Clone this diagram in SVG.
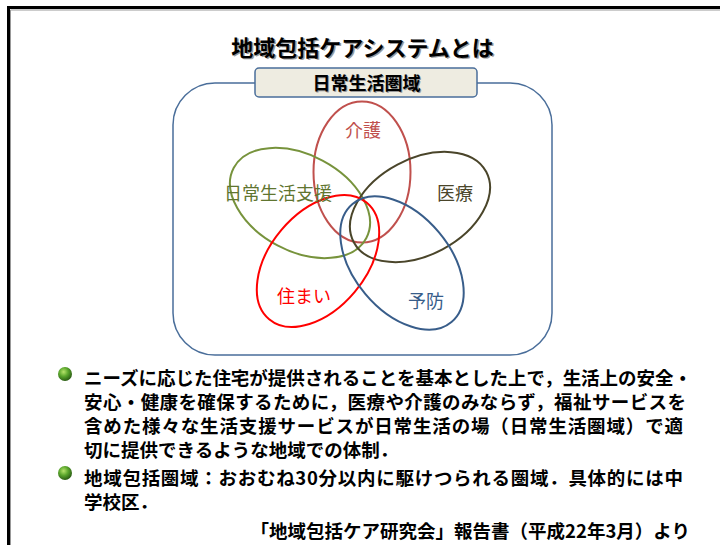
<svg xmlns="http://www.w3.org/2000/svg" width="720" height="545" viewBox="0 0 720 545">
<defs>
<radialGradient id="ball" cx="0.4" cy="0.35" r="0.65">
<stop offset="0" stop-color="#b6e36a"/>
<stop offset="0.5" stop-color="#5aa62c"/>
<stop offset="1" stop-color="#2b5e14"/>
</radialGradient>
<style>
.jp{font-family:"Noto Sans CJK JP","Liberation Sans",sans-serif;}
.b{font-weight:bold;}
.petal{fill:none;stroke-width:2;}
.lbl{font-size:18px;text-anchor:middle;}
.body{font-size:18.5px;font-weight:bold;fill:#000;}
</style>
</defs>
<rect width="720" height="545" fill="#fff"/>
<!-- frame -->
<path d="M10.5,545 V10 H720" fill="none" stroke="#999" stroke-width="1"/>
<path d="M8.5,545 V7.5 H720" fill="none" stroke="#000" stroke-width="3"/>

<!-- title -->
<g id="title" class="jp b" font-size="22" text-anchor="middle">
<text x="364" y="57" fill="#999">地域包括ケアシステムとは</text>
<text x="362.5" y="55.5" fill="#000">地域包括ケアシステムとは</text>
</g>

<!-- outer area -->
<g id="area">
<rect x="173" y="83" width="379" height="272" rx="42" ry="42" fill="none" stroke="#4A6E9A" stroke-width="1.5"/>
</g>
<g id="area-label">
<rect x="255" y="68" width="222" height="29" rx="4" ry="4" fill="#EEECE1" stroke="#4A6E9A" stroke-width="1.5"/>
<text x="367.5" y="90.5" class="jp b" font-size="18" text-anchor="middle" fill="#999">日常生活圏域</text>
<text x="366.5" y="89.5" class="jp b" font-size="18" text-anchor="middle" fill="#000">日常生活圏域</text>
</g>

<!-- petals -->
<g id="kaigo">
<ellipse cx="362" cy="172" rx="48.5" ry="70.5" class="petal" stroke="#C0504D"/>
</g>
<g id="shien">
<ellipse cx="300" cy="203" rx="75" ry="48" transform="rotate(28 300 203)" class="petal" stroke="#77933C"/>
</g>
<g id="iryo">
<ellipse cx="420" cy="207" rx="75" ry="48" transform="rotate(-28 420 207)" class="petal" stroke="#4A452A"/>
</g>
<g id="sumai">
<ellipse cx="318" cy="261" rx="76" ry="48" transform="rotate(-50 318 261)" class="petal" stroke="#FF0000"/>
</g>
<g id="yobo">
<ellipse cx="402" cy="263" rx="77" ry="48" transform="rotate(50 402 263)" class="petal" stroke="#385D8A"/>
</g>

<!-- petal labels -->
<g class="jp lbl">
<text x="363" y="137" fill="#C0504D">介護</text>
<text x="278" y="200" fill="#5F7530">日常生活支援</text>
<text x="455" y="200" fill="#4A452A">医療</text>
<text x="304" y="303" fill="#FF0000">住まい</text>
<text x="426" y="308" fill="#385D8A">予防</text>
</g>

<!-- bullets -->
<g id="bullets">
<circle cx="65" cy="374" r="7" fill="url(#ball)"/>
<circle cx="65" cy="473" r="7" fill="url(#ball)"/>
</g>
<g class="jp body">
<text x="84" y="385" textLength="608" lengthAdjust="spacing">ニーズに応じた住宅が提供されることを基本とした上で，生活上の安全・</text>
<text x="84" y="409" textLength="602" lengthAdjust="spacing">安心・健康を確保するために，医療や介護のみならず，福祉サービスを</text>
<text x="84" y="433" textLength="599" lengthAdjust="spacing">含めた様々な生活支援サービスが日常生活の場（日常生活圏域）で適</text>
<text x="84" y="457">切に提供できるような地域での体制．</text>
<text x="84" y="485" textLength="599" lengthAdjust="spacing">地域包括圏域：おおむね30分以内に駆けつられる圏域．具体的には中</text>
<text x="84" y="509">学校区．</text>
<text x="690" y="538" text-anchor="end">「地域包括ケア研究会」報告書（平成22年3月）より</text>
</g>
</svg>
